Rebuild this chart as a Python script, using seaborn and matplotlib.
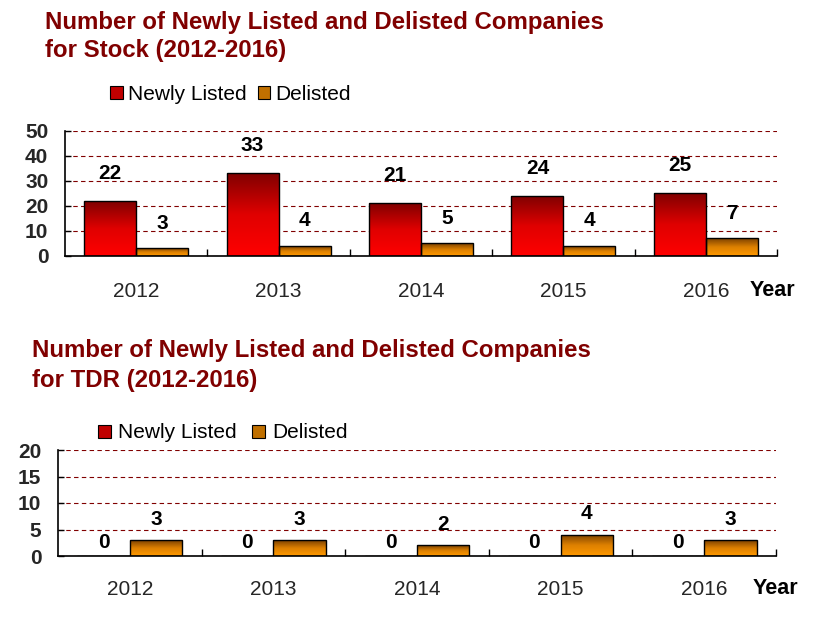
import numpy as np
import pandas as pd
import matplotlib
matplotlib.use('Agg')
import matplotlib.pyplot as plt
import seaborn as sns
from matplotlib.colors import LinearSegmentedColormap
from matplotlib.patches import Patch

# --------------- DATA -----------------
years = ['2012', '2013', '2014', '2015', '2016']
series = ['Newly Listed', 'Delisted']
stock_new = [22, 33, 21, 24, 25]
stock_del = [3, 4, 5, 4, 7]
tdr_new = [0, 0, 0, 0, 0]
tdr_del = [3, 3, 2, 4, 3]

TITLE_COLOR = '#800000'
GRID_COLOR = '#800000'
SOLID = ['#C00000', '#C07000']
RED_MAP = LinearSegmentedColormap.from_list('red_grad', ['#FF0000', '#E00000', '#800000'])
ORANGE_MAP = LinearSegmentedColormap.from_list('orange_grad', ['#FF9900', '#DD8000', '#7A4000'])

sns.set_theme(style='white')
plt.rcParams['font.family'] = ['Liberation Sans', 'DejaVu Sans']
plt.rcParams['text.color'] = 'black'

W, H = 813, 634
fig = plt.figure(figsize=(W / 100, H / 100), dpi=100)


def px_box(left, top, right, bottom):
    return [left / W, 1 - bottom / H, (right - left) / W, (bottom - top) / H]


def make_frame(new_vals, del_vals):
    rows = []
    for y, n, d in zip(years, new_vals, del_vals):
        rows.append((y, series[0], n))
        rows.append((y, series[1], d))
    return pd.DataFrame(rows, columns=['Year', 'Type', 'Count'])


def draw_panel(ax, df, ymax, ystep, offsets, xpad):
    sns.barplot(data=df, x='Year', y='Count', hue='Type', order=years, hue_order=series,
                palette=SOLID, width=0.73, gap=0, edgecolor='black', linewidth=1.0,
                legend=False, ax=ax)

    # vertical gradient fill, dark at top, bright at bottom
    grad = np.linspace(0, 1, 256).reshape(-1, 1)
    for container, cmap, off in zip(ax.containers, [RED_MAP, ORANGE_MAP], offsets):
        for bar in container:
            x, y = bar.get_x(), bar.get_y()
            w, h = bar.get_width(), bar.get_height()
            if h > 0:
                im = ax.imshow(grad, extent=[x, x + w, y, y + h], origin='lower',
                               cmap=cmap, aspect='auto', zorder=0.9, interpolation='bilinear')
                im.set_clip_path(bar)
                bar.set_facecolor('none')
            ax.annotate(f'{int(h)}', xy=(x + w / 2, h), xytext=(0, off),
                        textcoords='offset points', ha='center', va='center',
                        fontsize=15, fontweight='bold')

    ax.set_xlim(-0.5, len(years) - 0.5)
    ax.set_ylim(0, ymax)
    ax.set_yticks(np.arange(0, ymax + 1, ystep))
    ax.set_xlabel('')
    ax.set_ylabel('')

    ax.set_axisbelow(True)
    ax.yaxis.grid(True, color=GRID_COLOR, linestyle=(0, (4, 3)), linewidth=0.8)
    ax.xaxis.grid(False)

    sns.despine(ax=ax, top=True, right=True)
    for side in ['left', 'bottom']:
        ax.spines[side].set_color('black')
        ax.spines[side].set_linewidth(1.2)

    ax.tick_params(axis='y', direction='in', length=4, width=1, color='black',
                   pad=12, labelsize=15, left=True)
    for lab in ax.get_yticklabels():
        lab.set_fontweight('bold')
    ax.set_xticks(np.arange(len(years)))
    ax.set_xticklabels(years)
    ax.tick_params(axis='x', which='major', length=0, pad=xpad, labelsize=15)
    ax.set_xticks(np.arange(len(years)) + 0.5, minor=True)
    ax.tick_params(axis='x', which='minor', direction='in', length=5, width=1,
                   color='black', bottom=True)


def add_title(x, y1, y2, line1, line2):
    for y, txt in [(y1, line1), (y2, line2)]:
        fig.text(x / W, 1 - y / H, txt, color=TITLE_COLOR, fontsize=17.3,
                 fontweight='bold', va='center', ha='left')


def add_legend(x, y, textpad, colspace):
    handles = [Patch(facecolor=c, edgecolor='black', linewidth=0.8) for c in SOLID]
    fig.legend(handles, series, loc='center left', bbox_to_anchor=(x / W, 1 - y / H),
               ncol=2, frameon=False, fontsize=15, handlelength=0.6, handleheight=0.6,
               handletextpad=textpad, columnspacing=colspace, borderpad=0, borderaxespad=0)


# --------------- TOP: STOCK -----------------
ax1 = fig.add_axes(px_box(65, 131, 777, 256))
draw_panel(ax1, make_frame(stock_new, stock_del), 50, 10, [20, 18], 19)
add_title(45, 22, 51, 'Number of Newly Listed and Delisted Companies', 'for Stock (2012-2016)')
fig.text(772 / W, 1 - 291 / H, 'Year', fontsize=15.5, fontweight='bold', ha='center', va='center')
add_legend(110, 94, 0.25, 0.55)

# --------------- BOTTOM: TDR -----------------
ax2 = fig.add_axes(px_box(58, 450, 776, 556))
draw_panel(ax2, make_frame(tdr_new, tdr_del), 20, 5, [10, 15], 17)
add_title(32, 351, 381, 'Number of Newly Listed and Delisted Companies', 'for TDR (2012-2016)')
fig.text(775 / W, 1 - 589 / H, 'Year', fontsize=15.5, fontweight='bold', ha='center', va='center')
add_legend(98, 433, 0.35, 0.75)

fig.savefig('out.png', dpi=100)
